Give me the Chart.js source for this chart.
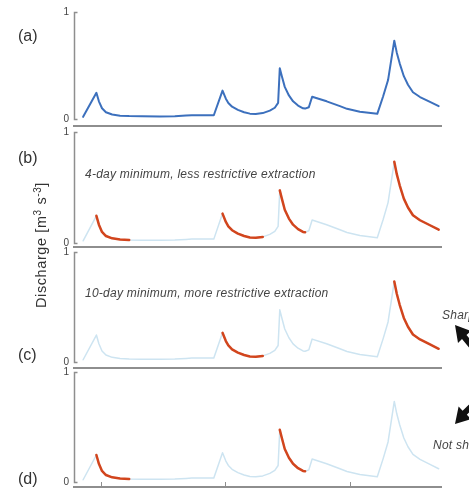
<!DOCTYPE html>
<html><head><meta charset="utf-8">
<script src="https://cdn.jsdelivr.net/npm/chart.js@4"></script>
<style>
html,body{margin:0;padding:0;background:#fff;width:469px;height:488px;overflow:hidden;position:relative;font-family:'Liberation Sans',Arial,sans-serif;}
canvas.pc{position:absolute;left:0;}
.lbl{position:absolute;left:18px;font-size:16px;color:#333;line-height:16px;}
.ann{position:absolute;font-style:italic;font-size:12px;letter-spacing:0.25px;color:#444;white-space:nowrap;line-height:14px;}
.ytitle{position:absolute;left:41px;top:245px;font-size:14.5px;letter-spacing:0.6px;color:#333;white-space:nowrap;transform:translate(-50%,-50%) rotate(-90deg);line-height:16px;}
.ytitle sup{font-size:10px;vertical-align:5px;line-height:0;}
</style></head><body>
<canvas class="pc" id="ca" width="469" height="127" style="top:0px"></canvas>
<canvas class="pc" id="cb" width="469" height="128" style="top:120px"></canvas>
<canvas class="pc" id="cc" width="469" height="129" style="top:240px"></canvas>
<canvas class="pc" id="cd" width="469" height="128" style="top:360px"></canvas>
<div class="lbl" style="top:28px">(a)</div>
<div class="lbl" style="top:150px">(b)</div>
<div class="lbl" style="top:347px">(c)</div>
<div class="lbl" style="top:471px">(d)</div>
<div class="ytitle">Discharge [m<sup>3</sup> s<sup>-3</sup>]</div>
<div class="ann" style="left:85px;top:167px">4-day minimum, less restrictive extraction</div>
<div class="ann" style="left:85px;top:286px">10-day minimum, more restrictive extraction</div>
<div class="ann" style="left:442px;top:308px">Sharp recession</div>
<div class="ann" style="left:433px;top:438px">Not sharp recession</div>
<svg style="position:absolute;left:0;top:0" width="469" height="488">
<polygon fill="#111" points="455,325 471,331 466.5,335 479,350 474.5,354 462,339 458,343"/>
<polygon fill="#111" points="455,424 471,419 466.8,414.8 480.6,400.7 476.6,396.8 462.6,410.8 458.6,406.6"/>
</svg>
<script>
// ---- data (days relative to first x tick, discharge scaled 0..1) ----
const days = [-4.3,-1.1,-0.5,0.25,1.2,2.7,4.6,6.8,9.9,14.2,17.8,20.5,21.9,27.2,29.3,30.1,30.7,31.6,33.0,34.5,35.9,37.3,39.0,40.7,41.9,42.7,43.1,43.6,44.3,45.3,46.3,47.5,48.7,49.2,50.1,50.9,54.4,57.6,59.3,62.4,66.6,68.0,69.2,70.7,71.3,72.0,73.0,74.0,75.2,76.9,79.3,81.4];
const discharge = [0.02,0.245,0.165,0.10,0.063,0.042,0.031,0.027,0.025,0.024,0.026,0.032,0.035,0.035,0.265,0.19,0.15,0.115,0.085,0.063,0.05,0.047,0.055,0.078,0.105,0.15,0.474,0.40,0.30,0.22,0.165,0.125,0.10,0.097,0.11,0.208,0.165,0.12,0.095,0.068,0.048,0.21,0.364,0.732,0.62,0.52,0.40,0.32,0.25,0.205,0.16,0.12];
const rangesB = [[-1.1,6.8],[29.3,39.0],[43.1,49.2],[70.7,81.4]];
const rangesC = [[29.3,39.0],[70.7,81.4]];
const rangesD = [[-1.1,6.8],[43.1,49.2]];
const xTickDays = [0,30,60];
const yTickValues = [0,1];
const yTickLabels = ['0','1'];
const panelYMin = [-0.075,-0.045,-0.064,-0.055];

const framePlugin = {
  id:'frame',
  afterDraw(chart, args, opts){
    const {ctx, chartArea:a, scales:{x,y}} = chart;
    ctx.save();
    ctx.strokeStyle = '#8e8e8e';
    ctx.lineWidth = 2;
    ctx.beginPath(); ctx.moveTo(a.left-1, a.bottom-1); ctx.lineTo(a.right, a.bottom-1); ctx.stroke();
    ctx.lineWidth = 1.5;
    const y1 = Math.round(y.getPixelForValue(1))+0.5, y0 = Math.round(y.getPixelForValue(0))+0.5;
    ctx.beginPath(); ctx.moveTo(a.left+3.5, y1); ctx.lineTo(a.left+0.5, y1); ctx.lineTo(a.left+0.5, y0); ctx.lineTo(a.left+3.5, y0); ctx.stroke();
    if (opts.ticks) {
      ctx.lineWidth = 1;
      for (const d of opts.ticks) {
        const px = Math.round(x.getPixelForValue(d))+0.5;
        ctx.beginPath(); ctx.moveTo(px, a.bottom-1); ctx.lineTo(px, a.bottom-6); ctx.stroke();
      }
    }
    ctx.fillStyle = '#444';
    ctx.font = "10px 'Liberation Sans', Arial, sans-serif";
    ctx.textAlign = 'right';
    ctx.textBaseline = 'middle';
    yTickValues.forEach((v,i)=>{
      ctx.fillText(yTickLabels[i], a.left-5, y.getPixelForValue(v));
    });
    ctx.restore();
  }
};

function pts(ranges){
  return days.map((d,i)=>{
    const inR = !ranges || ranges.some(r=>d>=r[0]-1e-6 && d<=r[1]+1e-6);
    return {x:d, y: inR ? discharge[i] : null};
  });
}

function makeChart(id, idx, datasets, ticks){
  new Chart(document.getElementById(id), {
    type:'line',
    data:{datasets},
    plugins:[framePlugin],
    options:{
      responsive:false, animation:false, devicePixelRatio:1,
      layout:{padding:{top:12,bottom:0,left:74,right:27}},
      plugins:{legend:{display:false}, tooltip:{enabled:false}, frame:{ticks}},
      elements:{point:{radius:0}, line:{tension:0, borderCapStyle:'round', borderJoinStyle:'round'}},
      scales:{
        x:{type:'linear', min:-6.5, max:82.2, display:false},
        y:{min:panelYMin[idx], max:1, display:false}
      }
    }
  });
}

const light = {borderColor:'#cde4f1', borderWidth:1.5, order:2, spanGaps:false};
const red = {borderColor:'#d2451d', borderWidth:2.5, order:1, spanGaps:false};

makeChart('ca',0,[{data:pts(null), borderColor:'#3c70bd', borderWidth:2}], null);
makeChart('cb',1,[Object.assign({data:pts(null)},light), Object.assign({data:pts(rangesB)},red)], null);
makeChart('cc',2,[Object.assign({data:pts(null)},light), Object.assign({data:pts(rangesC)},red)], null);
makeChart('cd',3,[Object.assign({data:pts(null)},light), Object.assign({data:pts(rangesD)},red)], xTickDays);
</script>
</body></html>
